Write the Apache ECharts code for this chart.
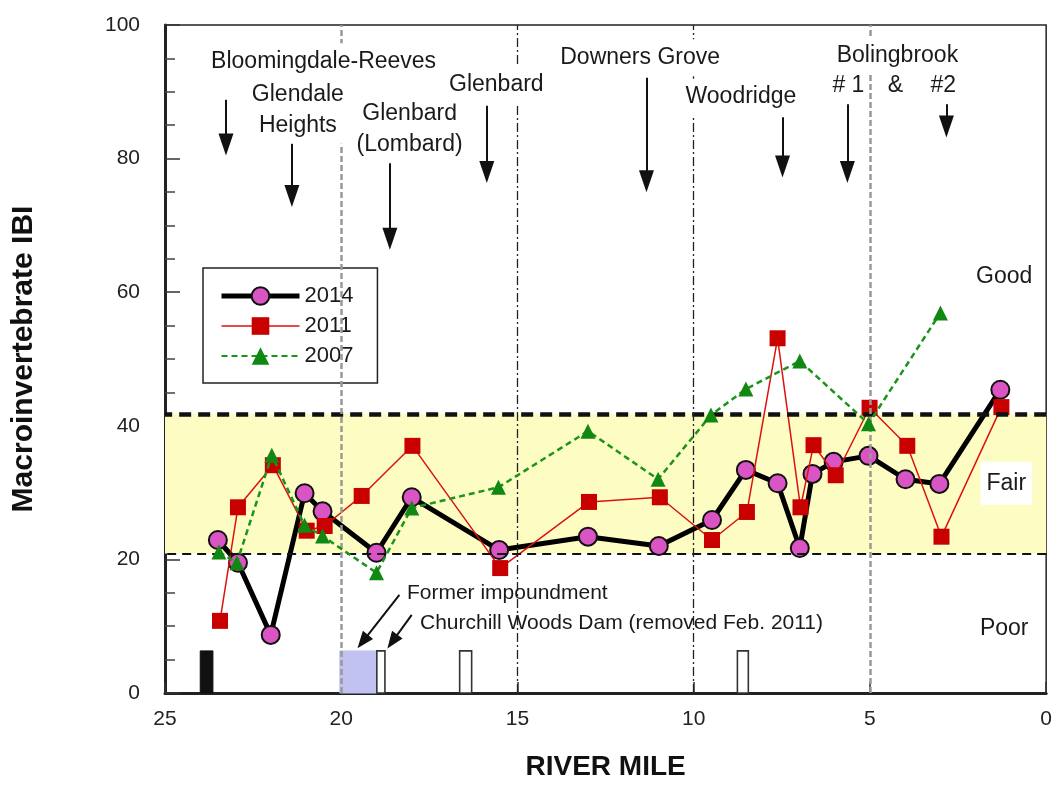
<!DOCTYPE html>
<html>
<head>
<meta charset="utf-8">
<script src="https://cdn.jsdelivr.net/npm/echarts@6/dist/echarts.min.js"></script>
<style>
html,body{margin:0;padding:0;background:#fff;}
#main{width:1055px;height:791px;}
</style>
</head>
<body>
<div id="main"></div>
<script>
// ---- data (river mile, Macroinvertebrate IBI) ----
const miles2014 = [23.50, 22.93, 22.00, 21.04, 20.53, 19.00, 18.00, 15.52, 13.00, 10.99, 9.48, 8.52, 7.62, 6.99, 6.63, 6.03, 5.04, 3.99, 3.03, 1.30];
const ibi2014   = [22.9, 19.5, 8.7, 29.9, 27.2, 21.0, 29.3, 21.4, 23.4, 22.0, 25.9, 33.4, 31.4, 21.7, 32.8, 34.6, 35.5, 32.0, 31.3, 45.4];

const miles2011 = [23.44, 22.93, 21.94, 20.98, 20.47, 19.42, 17.98, 15.49, 12.97, 10.96, 9.48, 8.49, 7.62, 6.97, 6.60, 5.97, 5.01, 3.94, 2.97, 1.27];
const ibi2011   = [10.8, 27.8, 34.1, 24.3, 25.0, 29.5, 37.0, 18.7, 28.6, 29.3, 22.9, 27.1, 53.1, 27.8, 37.1, 32.6, 42.7, 37.0, 23.4, 42.8];

const miles2007 = [23.47, 22.96, 21.97, 21.04, 20.53, 19.00, 18.00, 15.54, 13.00, 11.01, 9.51, 8.52, 6.99, 5.04, 3.00];
const ibi2007   = [21.1, 19.5, 35.6, 25.1, 23.5, 18.0, 27.7, 30.8, 39.2, 32.0, 41.6, 45.5, 49.7, 40.3, 56.9];

const seriesNames = ['2014', '2011', '2007'];

// IBI class thresholds
const fairLow = 20.9;
const goodLow = 41.8;

// reference verticals (river mile)
const refMilesMajor = [15, 10];
const refMilesMinor = [20, 5];

// features along the channel bottom: from mile, to mile, height, kind
const featFrom   = [24.00, 20.04, 18.99, 16.64, 8.76];
const featTo     = [23.64, 18.99, 18.76, 16.30, 8.45];
const featHeight = [6.3, 6.3, 6.3, 6.3, 6.3];
const featKind   = ['solid', 'impound', 'dam', 'dam', 'dam'];

// labels: mile, IBI, text
const labelMiles = [20.50, 21.23, 18.06, 15.60, 11.52, 8.66, 4.22, 5.61, 4.28, 2.92];
const labelIbi   = [94.5, 87.3, 84.4, 91.0, 95.1, 89.2, 95.4, 90.9, 90.9, 90.9];
const labelText  = ['Bloomingdale-Reeves', 'Glendale\nHeights', 'Glenbard\n(Lombard)', 'Glenbard', 'Downers Grove', 'Woodridge', 'Bolingbrook', '# 1', '&', '#2'];

const classMiles = [1.19, 1.13, 1.19];
const classIbi   = [62.3, 31.4, 9.7];
const classText  = ['Good', 'Fair', 'Poor'];

const noteMiles = [18.15, 17.78];
const noteIbi   = [15.0, 10.5];
const noteText  = ['Former impoundment', 'Churchill Woods Dam (removed Feb. 2011)'];

// arrows: mile, tail IBI, head IBI
const arrowMiles = [23.27, 21.40, 18.62, 15.87, 11.34, 7.48, 5.64, 2.83];
const arrowTail  = [88.8, 82.3, 79.5, 87.9, 92.1, 86.2, 89.2, 89.2];
const arrowHead  = [82.1, 74.4, 68.0, 78.0, 76.6, 78.8, 78.0, 84.8];
// diagonal arrows: tail mile, tail IBI, head mile, head IBI
const diagTailMile = [18.35, 18.00];
const diagTailIbi  = [14.7, 11.7];
const diagHeadMile = [19.39, 18.55];
const diagHeadIbi  = [7.7, 7.7];

// ---- build ----
const FONT = '"Liberation Sans", Arial, Helvetica, sans-serif';
const zip = (a, b) => a.map((v, i) => [v, b[i]]);

const featStyles = {
  solid:   {fill: '#111', stroke: '#111', lineWidth: 1},
  impound: {fill: '#c2c2f2', stroke: '#c2c2f2', lineWidth: 1},
  dam:     {fill: '#fff', stroke: '#333', lineWidth: 1.6}
};
const featData = featFrom.map((f, i) => [f, featTo[i], featHeight[i], 0]);

const chart = echarts.init(document.getElementById('main'), null, {renderer: 'canvas'});

const arrowLines = arrowMiles.map((m, i) => [
  {coord: [m, arrowTail[i]], symbol: 'none'},
  {coord: [m, arrowHead[i]], symbol: 'triangle', symbolSize: [15, 22]}
]).concat(diagTailMile.map((m, i) => [
  {coord: [m, diagTailIbi[i]], symbol: 'none'},
  {coord: [diagHeadMile[i], diagHeadIbi[i]], symbol: 'triangle', symbolSize: [13, 17]}
]));

const textPoints = labelText.map((t, i) => ({
  coord: [labelMiles[i], labelIbi[i]],
  label: {formatter: t}
})).concat(classText.map((t, i) => ({
  coord: [classMiles[i], classIbi[i]],
  label: {formatter: t, backgroundColor: i === 1 ? '#fff' : 'transparent', padding: [6, 6]}
}))).concat(noteText.map((t, i) => ({
  coord: [noteMiles[i], noteIbi[i]],
  label: {formatter: t, position: 'right', align: 'left', distance: 0, backgroundColor: 'transparent', padding: 0, fontSize: 21}
})));

const legendLine = {'2014': {width: 5, color: '#000'}, '2011': {width: 1.5, color: '#dd1111'}, '2007': {width: 2, color: '#1a951a', type: [6, 4]}};

const option = {
  animation: false,
  backgroundColor: '#fff',
  textStyle: {fontFamily: FONT},
  grid: {left: 165, right: 7, top: 25, bottom: 98, show: true, borderColor: '#222', borderWidth: 1.5, backgroundColor: 'transparent'},
  legend: {
    data: seriesNames.map(n => ({name: n, lineStyle: legendLine[n]})),
    orient: 'vertical',
    left: 203, top: 268,
    padding: [17, 24, 16, 16],
    itemGap: 8,
    itemWidth: 78, itemHeight: 22,
    borderColor: '#222', borderWidth: 1.5,
    backgroundColor: '#fff',
    textStyle: {fontSize: 22, color: '#1a1a1a', fontFamily: FONT},
    selectedMode: false
  },
  xAxis: {
    type: 'value', min: 0, max: 25, interval: 5, inverse: true,
    name: 'RIVER MILE', nameLocation: 'middle', nameGap: 60,
    nameTextStyle: {fontSize: 28, fontWeight: 'bold', color: '#111', fontFamily: FONT},
    axisLine: {onZero: false, lineStyle: {color: '#222', width: 3}},
    axisTick: {inside: true, length: 11, lineStyle: {color: '#333', width: 1.5}},
    axisLabel: {fontSize: 21, color: '#222', margin: 16, fontFamily: FONT},
    splitLine: {show: false}
  },
  yAxis: {
    type: 'value', min: 0, max: 100, interval: 20,
    name: 'Macroinvertebrate IBI', nameLocation: 'middle', nameGap: 126,
    nameTextStyle: {fontSize: 30, fontWeight: 'bold', color: '#111', fontFamily: FONT},
    axisLine: {show: true, onZero: false, lineStyle: {color: '#222', width: 3}},
    axisTick: {show: true, inside: true, length: 15, lineStyle: {color: '#333', width: 1.5}},
    minorTick: {show: true, splitNumber: 4, length: 10, lineStyle: {color: '#444', width: 1.5}},
    axisLabel: {fontSize: 21, color: '#222', margin: 25, fontFamily: FONT},
    splitLine: {show: false}
  },
  series: [
    {
      name: 'bg', type: 'line', data: [], z: 1, silent: true,
      markArea: {
        silent: true,
        itemStyle: {color: '#fdfcc2'},
        data: [[{yAxis: fairLow}, {yAxis: goodLow}]]
      },
      markLine: {
        silent: true, symbol: 'none', label: {show: false},
        data: [
          {yAxis: goodLow, lineStyle: {color: '#111', width: 4.5, type: [12, 7]}},
          {yAxis: fairLow, lineStyle: {color: '#111', width: 1.8, type: [9, 6]}}
        ].concat(refMilesMajor.map(m => ({xAxis: m, lineStyle: {color: '#222', width: 1.3, type: [9, 3, 2, 3]}})))
         .concat(refMilesMinor.map(m => ({xAxis: m, lineStyle: {color: '#999', width: 2.5, type: [6, 3]}})))
      }
    },
    {
      name: 'features', type: 'custom', z: 2, silent: true,
      encode: {x: [0, 1], y: 2},
      data: featData,
      renderItem: function (params, api) {
        const a = api.coord([api.value(0), api.value(2)]);
        const b = api.coord([api.value(1), 0]);
        const st = featStyles[featKind[params.dataIndex]];
        return {
          type: 'rect',
          shape: {x: Math.min(a[0], b[0]), y: a[1], width: Math.abs(b[0] - a[0]), height: b[1] - a[1]},
          style: st
        };
      }
    },
    {
      name: '2014', type: 'line', z: 3,
      data: zip(miles2014, ibi2014),
      symbol: 'circle', symbolSize: 18,
      lineStyle: {color: '#000', width: 5},
      itemStyle: {color: '#d955c4', borderColor: '#111', borderWidth: 2},
      emphasis: {disabled: true}
    },
    {
      name: '2011', type: 'line', z: 4,
      data: zip(miles2011, ibi2011),
      symbol: 'rect', symbolSize: 16,
      lineStyle: {color: '#dd1111', width: 1.5},
      itemStyle: {color: '#c80000'},
      emphasis: {disabled: true}
    },
    {
      name: '2007', type: 'line', z: 5,
      data: zip(miles2007, ibi2007),
      symbol: 'triangle', symbolSize: 15,
      lineStyle: {color: '#1a951a', width: 2.5, type: [6, 4]},
      itemStyle: {color: '#118811'},
      emphasis: {disabled: true}
    },
    {
      name: 'notes', type: 'line', data: [], z: 6, silent: true,
      markLine: {
        silent: true, label: {show: false},
        lineStyle: {color: '#111', width: 2, type: 'solid'},
        data: arrowLines
      },
      markPoint: {
        silent: true,
        symbol: 'rect', symbolSize: 1,
        itemStyle: {color: 'rgba(0,0,0,0)'},
        label: {
          show: true, position: 'inside',
          fontSize: 23, color: '#1a1a1a', lineHeight: 31, align: 'center',
          fontFamily: FONT,
          backgroundColor: '#fff', padding: [3, 4]
        },
        data: textPoints
      }
    }
  ]
};
chart.setOption(option);
</script>
</body>
</html>
